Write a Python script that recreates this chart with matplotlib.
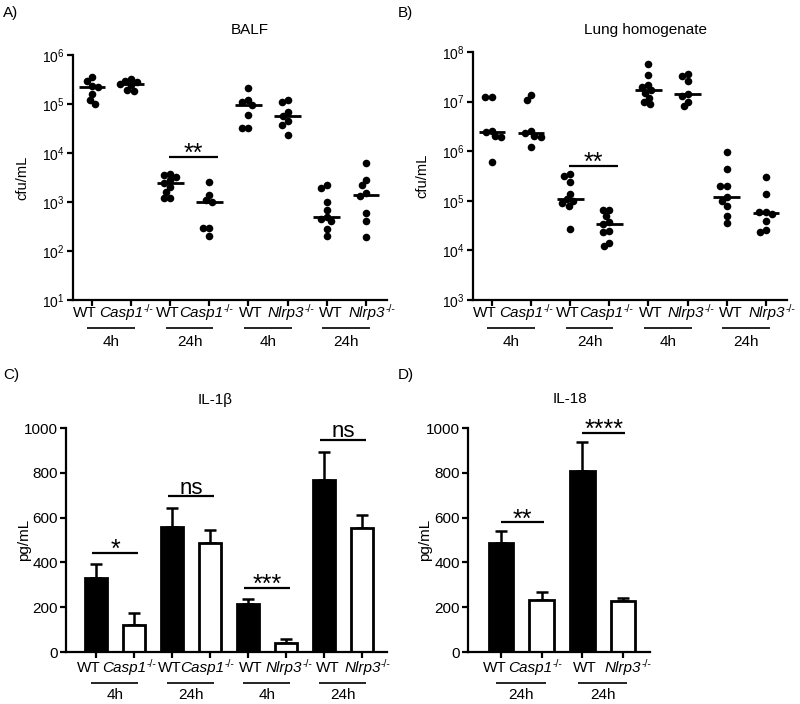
import matplotlib
matplotlib.use('Agg')
import matplotlib.pyplot as plt
import numpy as np
from matplotlib.transforms import ScaledTranslation
from matplotlib.ticker import NullLocator, FixedLocator

plt.rcParams['font.family'] = ['Liberation Sans', 'DejaVu Sans']
plt.rcParams['mathtext.fontset'] = 'custom'
plt.rcParams['mathtext.rm'] = 'Liberation Sans'
plt.rcParams['mathtext.it'] = 'Liberation Sans:italic'
plt.rcParams['mathtext.bf'] = 'Liberation Sans:bold'

# ---------------- data ----------------
genotypes_8 = ['WT', 'Casp1', 'WT', 'Casp1', 'WT', 'Nlrp3', 'WT', 'Nlrp3']
times_8 = ['4h', '24h', '4h', '24h']
genotypes_4 = ['WT', 'Casp1', 'WT', 'Nlrp3']
times_4 = ['24h', '24h']
knockout_sup = '-/-'

balf_cfu = [
    [3.5e5, 2.9e5, 2.3e5, 2.2e5, 1.6e5, 1.2e5, 1.0e5],
    [3.3e5, 3.0e5, 2.8e5, 2.6e5, 2.4e5, 1.9e5, 1.8e5],
    [3.8e3, 3.5e3, 3.2e3, 2.8e3, 2.5e3, 2.0e3, 1.6e3, 1.2e3, 1.2e3],
    [2.6e3, 1.4e3, 1.1e3, 1.0e3, 3.0e2, 3.0e2, 2.0e2],
    [2.1e5, 1.2e5, 1.1e5, 9.5e4, 6.0e4, 3.2e4, 3.2e4],
    [1.2e5, 1.1e5, 7.0e4, 5.8e4, 4.5e4, 3.8e4, 2.3e4],
    [2.2e3, 1.9e3, 1.0e3, 7.0e2, 5.0e2, 4.5e2, 4.0e2, 2.8e2, 2.0e2],
    [6.3e3, 2.8e3, 2.2e3, 1.5e3, 1.3e3, 5.9e2, 4.0e2, 1.9e2],
]
lung_cfu = [
    [1.25e7, 1.25e7, 2.6e6, 2.4e6, 2.0e6, 1.9e6, 6.0e5],
    [1.35e7, 1.1e7, 2.6e6, 2.3e6, 2.0e6, 1.9e6, 1.2e6],
    [3.5e5, 3.2e5, 2.4e5, 1.4e5, 1.1e5, 1.0e5, 9.0e4, 8.0e4, 2.7e4],
    [6.5e4, 6.5e4, 5.0e4, 3.8e4, 3.4e4, 2.5e4, 2.4e4, 1.4e4, 1.2e4],
    [5.8e7, 3.5e7, 2.2e7, 2.0e7, 1.7e7, 1.5e7, 1.2e7, 1.0e7, 9.0e6],
    [3.6e7, 3.3e7, 2.6e7, 1.4e7, 1.3e7, 1.0e7, 8.0e6],
    [9.8e5, 4.4e5, 2.0e5, 2.0e5, 1.2e5, 1.0e5, 8.0e4, 5.0e4, 3.5e4],
    [3.0e5, 1.4e5, 6.0e4, 6.0e4, 5.5e4, 4.0e4, 2.6e4, 2.4e4],
]
il1b_mean = [330, 120, 556, 487, 214, 40, 768, 555]
il1b_sem = [63, 52, 88, 56, 23, 18, 123, 57]
il18_mean = [488, 233, 808, 227]
il18_sem = [54, 37, 130, 12]

balf_sig = [(2, 3, 8.4e3, '**')]
lung_sig = [(2, 3, 5.0e5, '**')]
il1b_sig = [(0, 1, 442, '*'), (2, 3, 695, 'ns'), (4, 5, 286, '***'), (6, 7, 948, 'ns')]
il18_sig = [(0, 1, 579, '**'), (2, 3, 979, '****')]

# ---------------- figure ----------------
W, H = 800, 704
fig = plt.figure(figsize=(W / 100, H / 100), dpi=100)
renderer = fig.canvas.get_renderer()


def px_axes(left, top, right, bottom):
    return fig.add_axes([left / W, 1 - bottom / H, (right - left) / W, (bottom - top) / H])


def style(ax, labelsize):
    for s in ['top', 'right']:
        ax.spines[s].set_visible(False)
    for s in ['left', 'bottom']:
        ax.spines[s].set_linewidth(1.6)
    ax.tick_params(direction='out', length=4, width=1.6, labelsize=labelsize, pad=2)
    ax.tick_params(axis='x', labelbottom=False)


def shifted(base, dx_px, dy_px):
    return base + ScaledTranslation(dx_px / 100, dy_px / 100, fig.dpi_scale_trans)


def geno_label(ax, x, g, off_lab, fs=11, fs_sup=7.5):
    tl = ax.get_xaxis_transform()
    if g == 'WT':
        ax.text(x, 0, g, transform=shifted(tl, 0, -off_lab), ha='center', va='center',
                fontsize=fs, clip_on=False)
        return
    main = ax.text(x, 0, g, transform=tl, ha='left', va='center', fontsize=fs,
                   style='italic', clip_on=False)
    sup = ax.text(x, 0, knockout_sup, transform=tl, ha='left', va='center', fontsize=fs_sup,
                  clip_on=False)
    w1 = main.get_window_extent(renderer).width
    w2 = sup.get_window_extent(renderer).width
    total = w1 + w2
    main.set_transform(shifted(tl, -total / 2, -off_lab))
    sup.set_transform(shifted(tl, -total / 2 + w1, -off_lab + 4))


def x_labels(ax, genos, times, off_lab, off_line, off_time, shifts):
    tl = ax.get_xaxis_transform()
    for i, g in enumerate(genos):
        geno_label(ax, i + shifts[i], g, off_lab)
    for k, t in enumerate(times):
        a, b = 2 * k, 2 * k + 1
        ax.plot([a - 0.12, b + 0.1], [0, 0], transform=shifted(tl, 0, -off_line), color='k',
                lw=1.2, clip_on=False, solid_capstyle='butt')
        ax.text((a + b) / 2, 0, t, transform=shifted(tl, 0, -off_time), ha='center',
                va='center', fontsize=11, clip_on=False)


def swarm(ax, xc, vals, diam_px=7.3):
    vals = np.asarray(vals, float)
    disp = ax.transData.transform(np.column_stack([np.full(len(vals), float(xc)), vals]))
    ppu = ax.transData.transform([[1, 1]])[0, 0] - ax.transData.transform([[0, 1]])[0, 0]
    ys = disp[:, 1]
    cand = sorted(np.arange(-30, 30.5, 0.5), key=lambda c: (abs(c), c))
    placed = []
    offs = np.zeros(len(vals))
    for i in np.argsort(-ys):
        for c in cand:
            if all((c - px) ** 2 + (ys[i] - py) ** 2 >= (diam_px * 0.85) ** 2 for px, py in placed):
                offs[i] = c
                placed.append((c, ys[i]))
                break
    return xc + offs / ppu


def sig(ax, items, pad_l, pad_r, fs_star=18, fs_ns=16):
    for a, b, y, txt in items:
        ax.plot([a - pad_l, b + pad_r], [y, y], color='k', lw=1.6, clip_on=False,
                solid_capstyle='butt')
        xm = (a - pad_l + b + pad_r) / 2
        if txt == 'ns':
            ax.annotate(txt, xy=(xm, y), xytext=(0, 2), textcoords='offset points',
                        ha='center', va='baseline', fontsize=fs_ns, annotation_clip=False)
        else:
            ax.annotate(txt, xy=(xm, y), xytext=(0, -3), textcoords='offset points',
                        ha='center', va='baseline', fontsize=fs_star, annotation_clip=False)


def cfu_panel(ax, data, ylim, sigs):
    ax.set_yscale('log')
    ax.set_ylim(*ylim)
    ax.set_xlim(-0.485, 7.54)
    lo, hi = int(np.log10(ylim[0])), int(np.log10(ylim[1]))
    ax.yaxis.set_major_locator(FixedLocator([10.0 ** k for k in range(lo, hi + 1)]))
    ax.yaxis.set_minor_locator(NullLocator())
    ax.set_xticks(range(8))
    style(ax, 10)
    for i, vals in enumerate(data):
        xs = swarm(ax, i, vals)
        ax.scatter(xs, vals, s=30, color='k', zorder=3, linewidths=0)
        ax.hlines(np.median(vals), i - 0.34, i + 0.34, color='k', lw=2, zorder=4)
    sig(ax, sigs, 0.03, 0.22)
    ax.set_ylabel('cfu/mL', fontsize=10.5)
    x_labels(ax, genotypes_8, times_8, 13, 28, 42,
             [-0.18, -0.13, -0.05, -0.08, 0.07, 0.08, 0.1, 0.15])


def bar_panel(ax, means, sems, xlim, sigs, genos, times, shifts, pads):
    n = len(means)
    x = np.arange(n)
    ax.set_ylim(0, 1000)
    ax.set_xlim(*xlim)
    ax.set_yticks([0, 200, 400, 600, 800, 1000])
    ax.set_xticks(x)
    style(ax, 11)
    colors = ['black' if g == 'WT' else 'white' for g in genos]
    ax.errorbar(x, means, yerr=[np.zeros(n), sems], fmt='none', ecolor='k', elinewidth=1.8,
                capsize=4, capthick=1.8, zorder=1)
    ax.bar(x, means, width=0.6, color=colors, edgecolor='k', linewidth=2, zorder=2)
    sig(ax, sigs, pads[0], pads[1])
    ax.set_ylabel('pg/mL', fontsize=11)
    x_labels(ax, genos, times, 16, 31, 43, shifts)


axA = px_axes(73, 55, 387, 300)
axB = px_axes(473, 52, 787, 300)
axC = px_axes(66, 428, 387, 652)
axD = px_axes(468, 428, 650, 652)

cfu_panel(axA, balf_cfu, (10, 1e6), balf_sig)
cfu_panel(axB, lung_cfu, (1e3, 1e8), lung_sig)
bar_panel(axC, il1b_mean, il1b_sem, (-0.79, 7.66), il1b_sig, genotypes_8, times_8,
          [-0.18, -0.13, -0.05, -0.08, 0.07, 0.08, 0.1, 0.15], (0.1, 0.1))
bar_panel(axD, il18_mean, il18_sem, (-0.81, 3.66), il18_sig, genotypes_4, times_4,
          [-0.15, -0.15, 0.05, 0.12], (0.0, 0.05))

axA.yaxis.set_label_coords(-0.14, 0.5)
axB.yaxis.set_label_coords(-0.14, 0.5)
axC.yaxis.set_label_coords(-0.11, 0.5)
axD.yaxis.set_label_coords(-0.2, 0.5)

# titles
fig.text(250 / W, 1 - 30 / H, 'BALF', ha='center', va='center', fontsize=11)
fig.text(645 / W, 1 - 30 / H, 'Lung homogenate', ha='center', va='center', fontsize=11)
fig.text(215 / W, 1 - 400 / H, 'IL-1β', ha='center', va='center', fontsize=11)
fig.text(570 / W, 1 - 399 / H, 'IL-18', ha='center', va='center', fontsize=11)

# panel letters
fig.text(3 / W, 1 - 13 / H, 'A)', ha='left', va='center', fontsize=11)
fig.text(398 / W, 1 - 13 / H, 'B)', ha='left', va='center', fontsize=11)
fig.text(3 / W, 1 - 375 / H, 'C)', ha='left', va='center', fontsize=11)
fig.text(398 / W, 1 - 375 / H, 'D)', ha='left', va='center', fontsize=11)

fig.savefig('out.png', dpi=100)
